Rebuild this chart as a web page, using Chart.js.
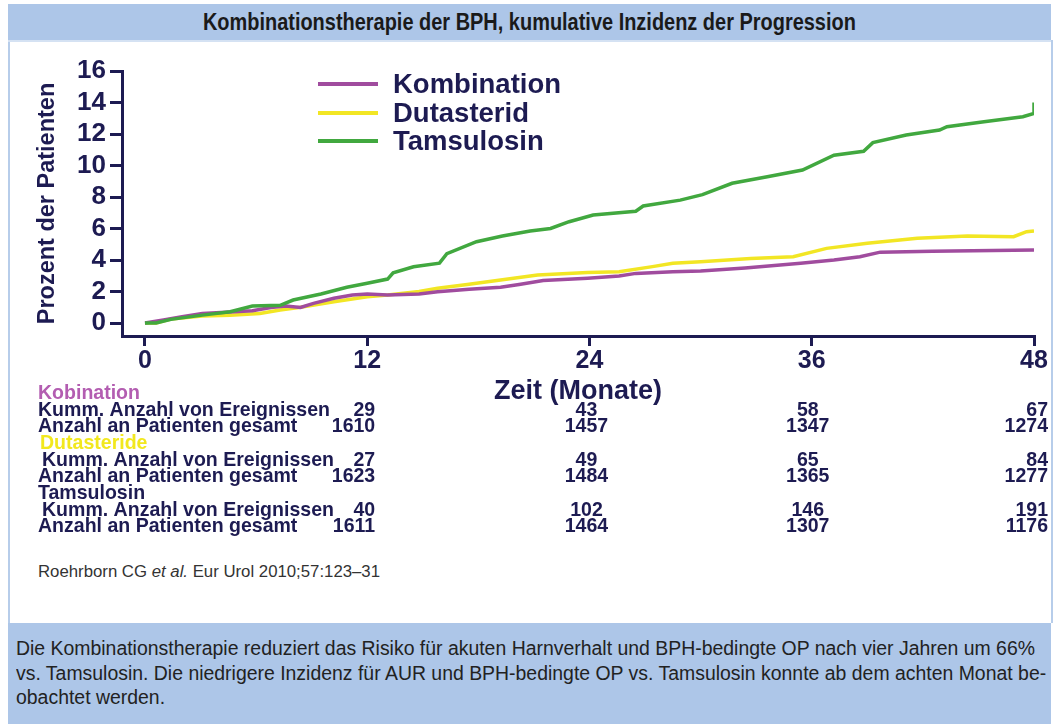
<!DOCTYPE html>
<html>
<head>
<meta charset="utf-8">
<script src="https://cdn.jsdelivr.net/npm/chart.js@4.4.1/dist/chart.umd.min.js"></script>
<style>
  html,body{margin:0;padding:0;background:#fff;}
  body{width:1058px;height:724px;position:relative;overflow:hidden;}
  #frame{position:absolute;left:8px;top:40px;width:1041px;height:583px;border-left:2px solid #b7cdea;border-right:2px solid #b7cdea;}
  #titlebar{position:absolute;left:8px;top:4px;width:1043px;height:36px;background:#adc6e8;border-bottom:2px solid #d5e2f3;text-align:center;line-height:36px;}
  #titlebar span{display:inline-block;font-family:"Liberation Sans",Arial,sans-serif;font-weight:bold;font-size:23px;color:#1a1a1a;white-space:nowrap;transform-origin:50% 50%;}
  #cite{position:absolute;left:38px;top:563px;font-family:"Liberation Sans",Arial,sans-serif;font-size:16px;color:#333;white-space:nowrap;transform-origin:0 50%;}
  #footer{position:absolute;left:8px;top:623px;width:1043px;height:101px;background:#adc6e8;}
  #footer div{position:absolute;left:8px;font-family:"Liberation Sans",Arial,sans-serif;font-size:19.5px;color:#222;white-space:nowrap;transform-origin:0 50%;line-height:24px;}
  #wrap{position:absolute;left:0;top:0;width:1058px;height:724px;}
</style>
</head>
<body>
<div id="frame"></div>
<div id="titlebar"><span id="ttl">Kombinationstherapie der BPH, kumulative Inzidenz der Progression</span></div>
<div id="cite">Roehrborn CG <i>et al.</i> Eur Urol 2010;57:123–31</div>
<div id="footer">
  <div class="fl" style="top:13px">Die Kombinationstherapie reduziert das Risiko für akuten Harnverhalt und BPH-bedingte OP nach vier Jahren um 66%</div>
  <div class="fl" style="top:37.5px">vs. Tamsulosin. Die niedrigere Inzidenz für AUR und BPH-bedingte OP vs. Tamsulosin konnte ab dem achten Monat be-</div>
  <div class="fl" style="top:62px">obachtet werden.</div>
</div>
<div id="wrap"><canvas id="c" width="1058" height="724"></canvas></div>
<script>
// ---- data ----
const seriesNames = ['Kombination', 'Dutasterid', 'Tamsulosin'];
const seriesColors = ['#a04c9e', '#f2e624', '#41a83f'];

const monthsKombination = [0, 1, 2, 3.1, 4.6, 5.8, 6.8, 7.6, 8.4, 9.1, 10.2, 11.2, 12, 13.1, 14.8, 15.8, 17.5, 19.2, 20.2, 21.5, 23.9, 25.6, 26.5, 28.5, 30, 32.4, 35.4, 37.2, 38.6, 39.7, 42.5, 48];
const valuesKombination = [0, 0.2, 0.4, 0.6, 0.7, 0.78, 0.99, 1.08, 0.99, 1.25, 1.57, 1.78, 1.84, 1.78, 1.84, 1.99, 2.15, 2.27, 2.45, 2.7, 2.84, 2.98, 3.15, 3.26, 3.3, 3.5, 3.79, 4.0, 4.21, 4.5, 4.55, 4.63];

const monthsDutasterid = [0, 0.6, 1.4, 3.1, 4.6, 6.2, 7.3, 8.4, 10.2, 12, 13.1, 14.8, 15.8, 17.4, 19.3, 21.2, 23.9, 25.6, 27.4, 28.5, 30, 32.7, 35, 36.8, 39, 41.7, 44.4, 46.9, 47.6, 48];
const valuesDutasterid = [0, 0, 0.25, 0.45, 0.5, 0.61, 0.83, 1.0, 1.35, 1.67, 1.78, 2.0, 2.2, 2.45, 2.75, 3.05, 3.2, 3.26, 3.58, 3.79, 3.89, 4.1, 4.21, 4.74, 5.06, 5.38, 5.52, 5.48, 5.8, 5.85];

const monthsTamsulosin = [0, 0.6, 1.4, 3.1, 4.6, 5.8, 7.3, 8.0, 9.5, 10.9, 12, 13.1, 13.4, 14.5, 15.9, 16.3, 17.9, 19.3, 20.8, 21.9, 22.9, 24.2, 26.5, 26.9, 28.9, 30.1, 31.7, 33.6, 35.5, 37.2, 38.8, 39.3, 41.1, 42.9, 43.3, 45.3, 47.4, 48, 48];
const valuesTamsulosin = [0, 0, 0.23, 0.5, 0.72, 1.08, 1.12, 1.46, 1.84, 2.27, 2.52, 2.79, 3.19, 3.57, 3.8, 4.4, 5.16, 5.52, 5.84, 6.0, 6.43, 6.86, 7.1, 7.43, 7.8, 8.15, 8.87, 9.29, 9.71, 10.65, 10.9, 11.45, 11.94, 12.25, 12.46, 12.78, 13.1, 13.3, 14.0];

const xTickValues = [0, 12, 24, 36, 48];
const yTickValues = [0, 2, 4, 6, 8, 10, 12, 14, 16];

const tableMonths = [12, 24, 36, 48];
const tableGroups = ['Kobination', 'Dutasteride', 'Tamsulosin'];
const tableGroupColors = ['#b35db1', '#f2e81e', '#1d1b52'];
const tableRowEvents = 'Kumm. Anzahl von Ereignissen';
const tableRowPatients = 'Anzahl an Patienten gesamt';
const eventsKombination = [29, 43, 58, 67];
const patientsKombination = [1610, 1457, 1347, 1274];
const eventsDutasterid = [27, 49, 65, 84];
const patientsDutasterid = [1623, 1484, 1365, 1277];
const eventsTamsulosin = [40, 102, 146, 191];
const patientsTamsulosin = [1611, 1464, 1307, 1176];

// ---- text fitting for the HTML captions ----
function fitWidth(el, target) {
  const w = el.getBoundingClientRect().width;
  if (w > 0) el.style.transform = 'scaleX(' + (target / w) + ')';
  return target / w;
}
fitWidth(document.getElementById('ttl'), 653);
fitWidth(document.getElementById('cite'), 342);
const fls = document.querySelectorAll('#footer .fl');
const fs = fitWidth(fls[0], 1019);
fls[1].style.transform = 'scaleX(' + fs + ')';
fls[2].style.transform = 'scaleX(' + fs + ')';

// ---- build ----
const navy = '#1d1b52';
const zip = (xs, ys) => xs.map((x, i) => ({x: x, y: ys[i]}));
const seriesData = [
  zip(monthsKombination, valuesKombination),
  zip(monthsDutasterid, valuesDutasterid),
  zip(monthsTamsulosin, valuesTamsulosin)
];
const drawOrder = [1, 2, 0];

const tableData = [
  [eventsKombination, patientsKombination],
  [eventsDutasterid, patientsDutasterid],
  [eventsTamsulosin, patientsTamsulosin]
];

function drawText(ctx, text, x, y, align, sx) {
  ctx.save();
  ctx.translate(x, y);
  ctx.scale(sx, 1);
  ctx.textAlign = align;
  ctx.fillText(text, 0, 0);
  ctx.restore();
}

const overlayPlugin = {
  id: 'overlay',
  afterDraw(chart) {
    const ctx = chart.ctx;
    const xs = chart.scales.x;
    ctx.save();
    // legend
    const legY = [84, 113, 141];
    seriesNames.forEach((n, i) => {
      ctx.strokeStyle = seriesColors[i];
      ctx.lineWidth = 4;
      ctx.beginPath();
      ctx.moveTo(318, legY[i]);
      ctx.lineTo(378, legY[i]);
      ctx.stroke();
      ctx.fillStyle = navy;
      ctx.font = 'bold 27.5px "Liberation Sans", Arial, sans-serif';
      ctx.textBaseline = 'middle';
      ctx.textAlign = 'left';
      ctx.fillText(n, 393, legY[i] + 1);
    });
    // table
    ctx.font = 'bold 21px "Liberation Sans", Arial, sans-serif';
    ctx.textBaseline = 'middle';
    const sx = 0.93;
    const groupY = [393, 443, 493];
    const colOffsets = [8, -3, -4, 14];
    const colAlign = ['right', 'center', 'center', 'right'];
    tableGroups.forEach((g, gi) => {
      const y0 = groupY[gi];
      ctx.fillStyle = tableGroupColors[gi];
      drawText(ctx, g, gi === 1 ? 40 : 38, y0, 'left', sx);
      ctx.fillStyle = navy;
      drawText(ctx, tableRowEvents, gi === 0 ? 38 : 42, y0 + 17, 'left', sx);
      drawText(ctx, tableRowPatients, 38, y0 + 33, 'left', sx);
      tableMonths.forEach((m, ci) => {
        const px = xs.getPixelForValue(m) + colOffsets[ci];
        drawText(ctx, String(tableData[gi][0][ci]), px, y0 + 17, colAlign[ci], sx);
        drawText(ctx, String(tableData[gi][1][ci]), px, y0 + 33, colAlign[ci], sx);
      });
    });
    ctx.restore();
  }
};

const fam = '"Liberation Sans", Arial, sans-serif';

new Chart(document.getElementById('c'), {
  type: 'line',
  data: {
    datasets: seriesNames.map((n, i) => ({
      label: n,
      data: seriesData[i],
      borderColor: seriesColors[i],
      backgroundColor: seriesColors[i],
      borderWidth: 3.5,
      pointRadius: 0,
      tension: 0,
      fill: false,
      order: drawOrder[i]
    }))
  },
  options: {
    responsive: false,
    animation: false,
    events: [],
    layout: {padding: {left: 8, right: 24, top: 71, bottom: 316}},
    plugins: {legend: {display: false}, tooltip: {enabled: false}},
    scales: {
      x: {
        type: 'linear', min: -1.24, max: 48,
        afterBuildTicks: s => { s.ticks = xTickValues.map(v => ({value: v})); },
        afterFit: s => { s.height = 72; },
        border: {display: true, color: navy, width: 3},
        grid: {display: true, drawOnChartArea: false, drawTicks: true, tickLength: 10, color: navy, lineWidth: 3},
        ticks: {font: {family: fam, weight: 'bold', size: 25}, color: navy, padding: 0, maxRotation: 0, autoSkip: false},
        title: {display: true, text: 'Zeit (Monate)', font: {family: fam, weight: 'bold', size: 27}, color: navy, padding: 0}
      },
      y: {
        type: 'linear', min: -0.825, max: 16,
        afterBuildTicks: s => { s.ticks = yTickValues.map(v => ({value: v})); },
        afterFit: s => { s.width = 114; },
        border: {display: true, color: navy, width: 3},
        grid: {display: true, drawOnChartArea: false, drawTicks: true, tickLength: 12, color: navy, lineWidth: 3},
        ticks: {font: {family: fam, weight: 'bold', size: 26}, color: navy, padding: 4, autoSkip: false},
        title: {display: true, text: 'Prozent der Patienten', font: {family: fam, weight: 'bold', size: 23.5}, color: navy, padding: {top: 25, bottom: 0}}
      }
    }
  },
  plugins: [overlayPlugin]
});
</script>
</body>
</html>
